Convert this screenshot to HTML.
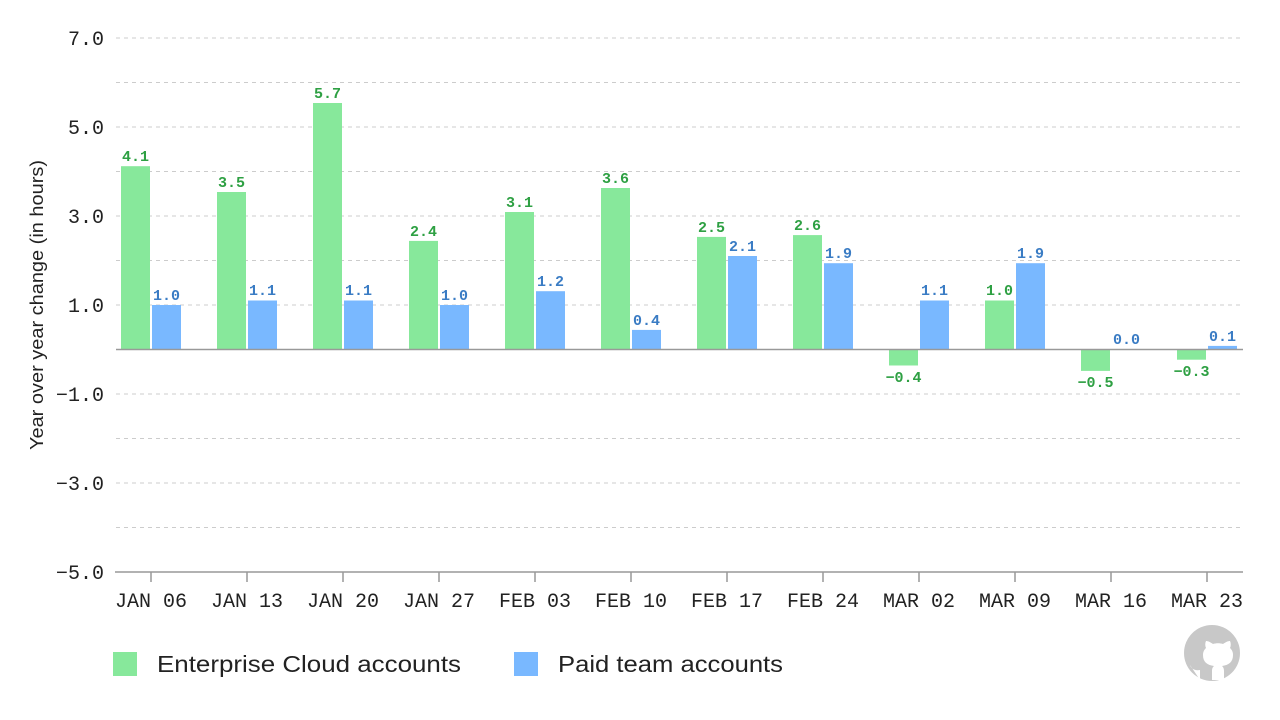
<!DOCTYPE html>
<html><head><meta charset="utf-8"><style>
html,body{margin:0;padding:0;background:#fff;width:1280px;height:720px;overflow:hidden}
</style></head><body>
<svg width="1280" height="720" xmlns="http://www.w3.org/2000/svg">
<g stroke="#ccc" stroke-dasharray="4,4" stroke-width="1">
<line x1="116" x2="1243" y1="38" y2="38"/><line x1="116" x2="1243" y1="82.5" y2="82.5"/>
<line x1="116" x2="1243" y1="127" y2="127"/><line x1="116" x2="1243" y1="171.5" y2="171.5"/>
<line x1="116" x2="1243" y1="216" y2="216"/><line x1="116" x2="1243" y1="260.5" y2="260.5"/>
<line x1="116" x2="1243" y1="305" y2="305"/>
<line x1="116" x2="1243" y1="394" y2="394"/><line x1="116" x2="1243" y1="438.5" y2="438.5"/>
<line x1="116" x2="1243" y1="483" y2="483"/><line x1="116" x2="1243" y1="527.5" y2="527.5"/>
</g>
<g font-family="Liberation Mono, DejaVu Sans Mono, monospace" font-size="20" fill="#222" text-anchor="end">
<text x="104" y="45">7.0</text><text x="104" y="134">5.0</text><text x="104" y="223">3.0</text>
<text x="104" y="312">1.0</text><text x="104" y="401">−1.0</text><text x="104" y="490">−3.0</text><text x="104" y="579">−5.0</text>
</g>
<text transform="translate(43,305) rotate(-90)" text-anchor="middle" font-family="Liberation Sans, sans-serif" font-size="18" fill="#222" textLength="290" lengthAdjust="spacingAndGlyphs">Year over year change (in hours)</text>

<g fill="#87e89b">
<rect x="121" y="166.2" width="29" height="183.3"/>
<rect x="217" y="192" width="29" height="157.5"/>
<rect x="313" y="103" width="29" height="246.5"/>
<rect x="409" y="240.9" width="29" height="108.6"/>
<rect x="505" y="212" width="29" height="137.5"/>
<rect x="601" y="188" width="29" height="161.5"/>
<rect x="697" y="236.9" width="29" height="112.6"/>
<rect x="793" y="235.1" width="29" height="114.4"/>
<rect x="889" y="349.5" width="29" height="16"/>
<rect x="985" y="300.5" width="29" height="49"/>
<rect x="1081" y="349.5" width="29" height="21.4"/>
<rect x="1177" y="349.5" width="29" height="10.2"/>
</g>
<g fill="#79b8ff">
<rect x="152" y="305" width="29" height="44.5"/>
<rect x="248" y="300.5" width="29" height="49"/>
<rect x="344" y="300.5" width="29" height="49"/>
<rect x="440" y="305" width="29" height="44.5"/>
<rect x="536" y="291.2" width="29" height="58.3"/>
<rect x="632" y="329.9" width="29" height="19.6"/>
<rect x="728" y="256" width="29" height="93.5"/>
<rect x="824" y="263.2" width="29" height="86.3"/>
<rect x="920" y="300.5" width="29" height="49"/>
<rect x="1016" y="263.2" width="29" height="86.3"/>
<rect x="1112" y="349" width="29" height="0.5"/>
<rect x="1208" y="345.9" width="29" height="3.6"/>
</g>
<g font-family="Liberation Mono, monospace" font-weight="bold" font-size="15" fill="#2ea043" text-anchor="middle">
<text x="135.5" y="161">4.1</text>
<text x="231.5" y="187">3.5</text>
<text x="327.5" y="98">5.7</text>
<text x="423.5" y="236">2.4</text>
<text x="519.5" y="207">3.1</text>
<text x="615.5" y="183">3.6</text>
<text x="711.5" y="232">2.5</text>
<text x="807.5" y="230">2.6</text>
<text x="903.5" y="382">−0.4</text>
<text x="999.5" y="295">1.0</text>
<text x="1095.5" y="387">−0.5</text>
<text x="1191.5" y="376">−0.3</text>
</g>
<g font-family="Liberation Mono, monospace" font-weight="bold" font-size="15" fill="#3a7cc4" text-anchor="middle">
<text x="166.5" y="300">1.0</text>
<text x="262.5" y="295">1.1</text>
<text x="358.5" y="295">1.1</text>
<text x="454.5" y="300">1.0</text>
<text x="550.5" y="286">1.2</text>
<text x="646.5" y="325">0.4</text>
<text x="742.5" y="251">2.1</text>
<text x="838.5" y="258">1.9</text>
<text x="934.5" y="295">1.1</text>
<text x="1030.5" y="258">1.9</text>
<text x="1126.5" y="344">0.0</text>
<text x="1222.5" y="341">0.1</text>
</g>
<line x1="116" x2="1243" y1="349.5" y2="349.5" stroke="#999" stroke-width="1.5"/>
<line x1="115" x2="1243" y1="572" y2="572" stroke="#999" stroke-width="1.5"/>
<g stroke="#999" stroke-width="1.5">
<line x1="151" x2="151" y1="572" y2="582"/><line x1="247" x2="247" y1="572" y2="582"/>
<line x1="343" x2="343" y1="572" y2="582"/><line x1="439" x2="439" y1="572" y2="582"/>
<line x1="535" x2="535" y1="572" y2="582"/><line x1="631" x2="631" y1="572" y2="582"/>
<line x1="727" x2="727" y1="572" y2="582"/><line x1="823" x2="823" y1="572" y2="582"/>
<line x1="919" x2="919" y1="572" y2="582"/><line x1="1015" x2="1015" y1="572" y2="582"/>
<line x1="1111" x2="1111" y1="572" y2="582"/><line x1="1207" x2="1207" y1="572" y2="582"/>
</g>
<g font-family="Liberation Mono, monospace" font-size="20" fill="#222" text-anchor="middle">
<text x="151" y="607">JAN 06</text><text x="247" y="607">JAN 13</text><text x="343" y="607">JAN 20</text>
<text x="439" y="607">JAN 27</text><text x="535" y="607">FEB 03</text><text x="631" y="607">FEB 10</text>
<text x="727" y="607">FEB 17</text><text x="823" y="607">FEB 24</text><text x="919" y="607">MAR 02</text>
<text x="1015" y="607">MAR 09</text><text x="1111" y="607">MAR 16</text><text x="1207" y="607">MAR 23</text>
</g>
<rect x="113" y="652" width="24" height="24" fill="#87e89b"/>
<text x="157" y="672" font-family="Liberation Sans, sans-serif" font-size="23" fill="#222" textLength="304" lengthAdjust="spacingAndGlyphs">Enterprise Cloud accounts</text>
<rect x="514" y="652" width="24" height="24" fill="#79b8ff"/>
<text x="558" y="672" font-family="Liberation Sans, sans-serif" font-size="23" fill="#222" textLength="225" lengthAdjust="spacingAndGlyphs">Paid team accounts</text>
<circle cx="1212" cy="653" r="28" fill="#c8c8c8"/>
<path d="M1200 680 v-10 c-6 1 -9 -2 -10 -5 M1224 680 v-9 c0 -3 -1 -4 -2 -5 c7 -1 11 -4 11 -11 c0 -3 -1 -5 -3 -7 c1 -2 1 -5 0 -7 c-2 0 -4 1 -7 3 c-3 -1 -7 -1 -10 0 c-3 -2 -5 -3 -7 -3 c-1 2 -1 5 0 7 c-2 2 -3 4 -3 7 c0 7 4 10 11 11 c-1 1 -2 2 -2 5 v9 z" fill="#fff"/>
</svg>
</body></html>
